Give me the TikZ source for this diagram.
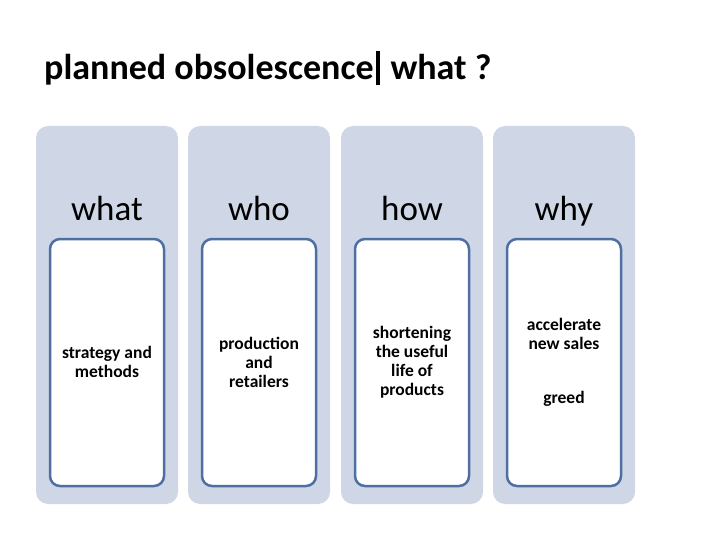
\documentclass[tikz,border=0pt]{standalone}
\usepackage{fontspec}
\setmainfont{Carlito}
\usepackage{xcolor}
\usepackage{tikz}
\usetikzlibrary{calc}
\usetikzlibrary{backgrounds}

\definecolor{panel}{HTML}{CFD7E6}
\definecolor{frame}{HTML}{4F6FA3}

\tikzset{
  colbox/.style={fill=panel,draw=none,rounded corners=12pt},
  innerbox/.style={fill=white,draw=frame,line width=2.5pt,rounded corners=10pt},
  headtxt/.style={font=\fontsize{35}{40}\selectfont,anchor=base},
  bodytxt/.style={font=\fontsize{17.5}{19}\selectfont\bfseries,align=center}
}

\begin{document}
\begin{tikzpicture}[x=1pt,y=-1pt]
\useasboundingbox (0,0) rectangle (720,540);
\node[font=\fontsize{36}{40}\selectfont\bfseries,anchor=base west,inner sep=0pt] (title) at (44,80) {planned obsolescence\kern2pt\raisebox{-0.14em}{\rule{4pt}{0.95em}}\hspace{11pt}what ?};
\foreach \i/\x/\head/\body in {1/36/what/{strategy and\\methods}, 2/188/who/{production\\and\\retailers}, 3/341/how/{shortening\\the useful\\life of\\products}, 4/493/why/{accelerate\\new sales\\[35pt]greed}}
{
  \draw[colbox] (\x,126) rectangle ++(142,378);
  \draw[innerbox] (\x+14,239) rectangle ++(114,247);
  \node[headtxt] (head\i) at (\x+71,221) {\head};
  \node[bodytxt] (body\i) at (\x+71,362) {\body};
}
\end{tikzpicture}
\end{document}
